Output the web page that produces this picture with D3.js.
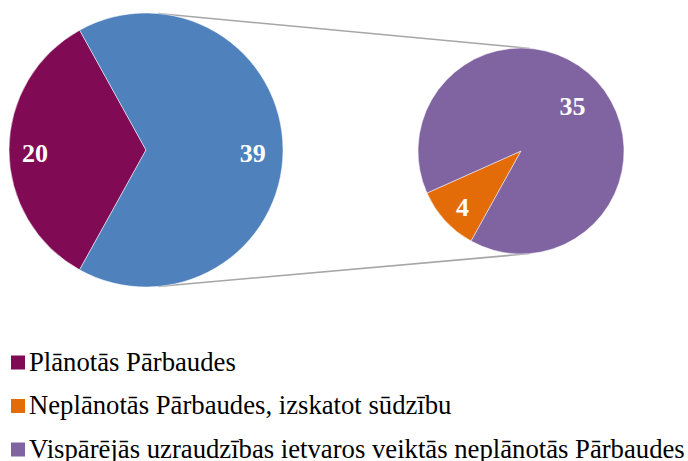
<!DOCTYPE html>
<html>
<head>
<meta charset="utf-8">
<script src="https://cdn.jsdelivr.net/npm/d3@7"></script>
<style>
  body { margin: 0; background: #fff; }
</style>
</head>
<body>
<svg id="chart" width="688" height="461" font-family="'Liberation Serif', 'Times New Roman', serif"></svg>
<script>
const mainValues = [20, 39];
const mainColors = ['#800b54', '#4f81bd'];

const subValues = [4, 35];
const subColors = ['#e36c09', '#8064a2'];

const legendLabels = ['Plānotās Pārbaudes', 'Neplānotās Pārbaudes, izskatot sūdzību', 'Vispārējās uzraudzības ietvaros veiktās neplānotās Pārbaudes'];
const legendColors = ['#800b54', '#e36c09', '#8064a2'];

const deg = Math.PI / 180;
const svg = d3.select('#chart');

const left = { cx: 146, cy: 150, r: 137, start: 209, labelK: [0.81, 0.78], dy: 3 };
const right = { cx: 521, cy: 151, r: 103, start: 209, labelK: [0.77, 0.68], dy: 2 };

// connector lines, drawn first so the pies cover their ends
function pt(p, a) {
  return [p.cx + p.r * Math.sin(a * deg), p.cy - p.r * Math.cos(a * deg)];
}
[5, 175].forEach(function(a) {
  const s = pt(left, a), e = pt(right, a);
  svg.append('line')
    .attr('x1', s[0]).attr('y1', s[1])
    .attr('x2', e[0]).attr('y2', e[1])
    .attr('stroke', '#a6a6a6').attr('stroke-width', 1.5);
});

function drawPie(p, values, colors) {
  const pie = d3.pie().sort(null).startAngle(p.start * deg).endAngle((p.start + 360) * deg);
  const arc = d3.arc().innerRadius(0).outerRadius(p.r);
  const g = svg.append('g').attr('transform', 'translate(' + p.cx + ',' + p.cy + ')');
  const arcs = pie(values);
  g.selectAll('path').data(arcs).enter().append('path')
    .attr('d', arc)
    .attr('fill', (d, i) => colors[i])
    .attr('stroke', '#fff').attr('stroke-width', 0.5);
  g.selectAll('text').data(arcs).enter().append('text')
    .attr('transform', function(d, i) {
      const r = p.r * p.labelK[i];
      const c = d3.arc().innerRadius(r).outerRadius(r).centroid(d);
      return 'translate(' + c[0] + ',' + (c[1] + p.dy) + ')';
    })
    .attr('text-anchor', 'middle')
    .attr('dy', '0.35em')
    .attr('fill', '#fff')
    .attr('font-weight', 'bold')
    .attr('font-size', 26)
    .text(d => d.data);
}

drawPie(left, mainValues, mainColors);
drawPie(right, subValues, subColors);

// legend
const legend = svg.append('g');
legendLabels.forEach(function(l, i) {
  const base = 370.5 + i * 43.5;
  legend.append('rect')
    .attr('x', 11).attr('y', base - 15).attr('width', 14).attr('height', 14)
    .attr('fill', legendColors[i]);
  legend.append('text')
    .attr('x', 29).attr('y', base)
    .attr('font-size', 26.7).attr('fill', '#000')
    .text(l);
});
</script>
</body>
</html>
